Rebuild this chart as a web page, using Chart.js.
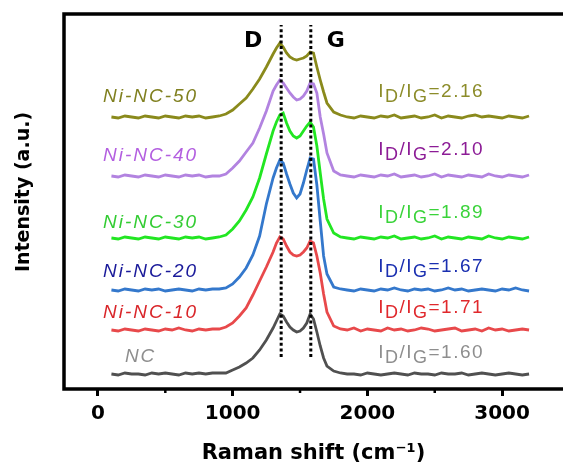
<!DOCTYPE html>
<html lang="en">
<head>
<meta charset="UTF-8" />
<title>Raman spectra</title>
<script src="https://cdn.jsdelivr.net/npm/chart.js@4.4.1/dist/chart.umd.min.js"></script>
<style>
  html, body { margin: 0; padding: 0; background: #fff; overflow: hidden; }
  canvas { display: block; }
</style>
</head>
<body>
<canvas id="raman" width="563" height="470"></canvas>
<script>
// Raman shift (cm-1), shared by every spectrum
const shift = [100,150,200,250,300,350,400,450,500,550,600,650,700,750,800,850,
  900,950,1000,1050,1100,1150,1200,1250,
  1300,1325,1350,1375,1400,1425,1450,1475,1500,1525,1550,1575,1600,1625,1650,1675,1700,
  1750,1800,1850,1900,1950,2000,2050,2100,2150,2200,2250,2300,2350,2400,2450,2500,
  2550,2600,2650,2700,2750,2800,2850,2900,2950,3000,3050,3100,3150,3200];

const samples = ['NC', 'Ni-NC-10', 'Ni-NC-20', 'Ni-NC-30', 'Ni-NC-40', 'Ni-NC-50'];
const ratios = ['1.60', '1.71', '1.67', '1.89', '2.10', '2.16'];

// stacked intensities (a.u., offset per sample)
const ncCounts = [15,14,16,15,15,14,16,15,16,15,14,16,15,16,15,16,
  16,16,19,22,26,31,39,49,
  61,68,75,73,67,62,59,57,58,61,66,75,70,57,43,31,23,
  18,16,15,15,14,16,15,14,15,16,15,14,16,15,15,14,16,15,15,16,14,15,16,15,14,15,16,15,14,15];
const ni10Counts = [59,58,60,59,58,60,59,58,60,59,61,59,58,60,59,60,
  60,62,66,73,81,94,108,122,
  137,146,152,150,143,137,134,133,134,137,141,148,146,133,116,95,77,
  63,60,59,61,58,60,59,58,61,59,60,58,59,61,60,58,59,60,61,58,59,60,58,61,59,60,58,59,60,59];
const ni20Counts = [99,98,100,99,98,100,99,100,98,99,100,99,98,100,99,100,
  100,101,105,112,121,134,153,185,
  211,221,229,226,215,205,196,191,195,206,219,231,230,204,168,133,115,
  102,100,99,98,100,99,98,100,99,101,99,98,100,99,100,98,99,101,99,100,98,99,100,99,98,100,99,101,99,98];
const ni30Counts = [151,150,152,151,150,152,151,150,152,151,150,152,151,152,150,151,
  152,154,160,168,179,192,211,235,
  258,267,274,276,266,258,253,251,253,258,263,267,262,243,216,190,170,
  156,152,151,150,152,151,150,152,151,153,150,151,152,150,151,153,150,152,151,150,152,151,150,153,151,150,152,151,150,152];
const ni40Counts = [213,212,214,213,212,214,213,212,214,213,212,214,213,214,212,213,
  213,215,221,228,237,246,261,278,
  298,304,309,306,301,296,292,289,290,293,298,306,305,296,272,255,236,
  218,214,213,212,214,213,212,214,213,215,212,213,214,212,213,215,212,214,213,212,214,213,212,215,213,212,214,213,212,214];
const ni50Counts = [272,271,273,272,271,273,272,271,273,272,271,273,272,273,271,272,
  273,275,279,285,291,300,310,322,
  335,341,346,342,336,332,330,329,330,331,333,337,336,322,309,297,286,
  277,274,272,271,273,272,271,273,272,274,271,272,273,271,272,274,271,273,272,271,273,274,272,273,272,271,273,272,271,273];

const bandNames = ['D', 'G'];
const bandPositions = [1360, 1580];
const bandSpan = [32, 364];

const xTicks = [0, 1000, 2000, 3000];
const xMinorTicks = [500, 1500, 2500];

// where the sample names and I_D/I_G notes sit (axis units)
const nameX = [200, 37, 37, 37, 37, 37];
const nameY = [27.5, 71.5, 112, 161.5, 228.5, 287];
const ratioX = 2080;
const ratioY = [31, 76, 117, 171, 234, 292];

const lineColors = ['#505050', '#e8494b', '#3478cc', '#22e622', '#b283e0', '#8a8a1c'];
const nameColors = ['#8e8e8e', '#d9262a', '#1a1a9a', '#33cc33', '#b35fe0', '#808020'];
const ratioColors = ['#8e8e8e', '#e0282c', '#1a2fb0', '#3ad33a', '#8c1c96', '#8c8c2a'];

const counts = [ncCounts, ni10Counts, ni20Counts, ni30Counts, ni40Counts, ni50Counts];

const datasets = counts.map((vals, i) => ({
  label: samples[i],
  data: vals.map((v, k) => ({ x: shift[k], y: v })),
  borderColor: lineColors[i],
  borderWidth: 2.8,
  pointRadius: 0,
  tension: 0,
  fill: false
}));

// dotted markers for the D and G bands
bandPositions.forEach((p, i) => {
  datasets.push({
    label: bandNames[i] + ' band',
    data: [{ x: p, y: bandSpan[0] }, { x: p, y: bandSpan[1] }],
    borderColor: '#000',
    borderWidth: 3,
    borderDash: [3, 2.6],
    pointRadius: 0,
    order: -1
  });
});

function spaced(ctx, text, x, y, gap) {
  for (const ch of text) {
    ctx.fillText(ch, x, y);
    x += ctx.measureText(ch).width + gap;
  }
  return x;
}

const annotate = {
  id: 'annotate',
  afterDraw(chart) {
    const { ctx, chartArea: a, scales: { x, y } } = chart;
    ctx.save();

    // frame: top, left and bottom (the right side is cut off by the canvas edge)
    ctx.strokeStyle = '#000';
    ctx.lineWidth = 3.5;
    ctx.beginPath();
    ctx.moveTo(a.right + 2, a.top);
    ctx.lineTo(a.left, a.top);
    ctx.lineTo(a.left, a.bottom);
    ctx.lineTo(a.right + 2, a.bottom);
    ctx.stroke();

    // minor ticks
    ctx.lineWidth = 2.5;
    xMinorTicks.forEach(v => {
      const px = x.getPixelForValue(v);
      ctx.beginPath();
      ctx.moveTo(px, a.bottom);
      ctx.lineTo(px, a.bottom + 4);
      ctx.stroke();
    });

    // band letters
    ctx.fillStyle = '#000';
    ctx.font = 'bold 22px "DejaVu Sans"';
    ctx.textAlign = 'center';
    ctx.textBaseline = 'alphabetic';
    ctx.fillText(bandNames[0], x.getPixelForValue(bandPositions[0]) - 28, a.top + 33);
    ctx.fillText(bandNames[1], x.getPixelForValue(bandPositions[1]) + 25, a.top + 33);

    // sample names and intensity ratios
    ctx.textAlign = 'left';
    samples.forEach((s, i) => {
      ctx.fillStyle = nameColors[i];
      ctx.font = 'italic 19px "Liberation Sans"';
      spaced(ctx, s, x.getPixelForValue(nameX[i]), y.getPixelForValue(nameY[i]), 2);

      ctx.fillStyle = ratioColors[i];
      const base = y.getPixelForValue(ratioY[i]);
      let px = x.getPixelForValue(ratioX);
      const parts = [['I', 0], ['D', 1], ['/', 0], ['I', 0], ['G', 1], ['=' + ratios[i], 0]];
      parts.forEach(([t, sub]) => {
        ctx.font = sub ? '18px "Liberation Sans"' : '19px "Liberation Sans"';
        px = spaced(ctx, t, px, base + (sub ? 5 : 0), 1.5);
      });
    });

    // y axis title
    ctx.fillStyle = '#000';
    ctx.font = 'bold 19px "DejaVu Sans"';
    ctx.textAlign = 'center';
    ctx.textBaseline = 'middle';
    ctx.translate(24, 192);
    ctx.rotate(-Math.PI / 2);
    ctx.fillText('Intensity (a.u.)', 0, 0);
    ctx.restore();
  }
};

new Chart(document.getElementById('raman'), {
  type: 'line',
  data: { datasets },
  options: {
    responsive: false,
    animation: false,
    layout: { padding: { left: 64, top: 14, right: 0, bottom: 0 } },
    plugins: { legend: { display: false }, tooltip: { enabled: false } },
    scales: {
      x: {
        type: 'linear',
        min: -252,
        max: 3452,
        afterBuildTicks: s => { s.ticks = xTicks.map(v => ({ value: v })); },
        afterFit: s => { s.height = 81; },
        grid: { drawOnChartArea: false, drawTicks: true, tickLength: 7, tickWidth: 3, tickColor: '#000' },
        border: { display: false },
        ticks: {
          color: '#000',
          padding: 6,
          font: { family: 'DejaVu Sans', weight: 'bold', size: 20 },
          callback: v => String(v)
        },
        title: {
          display: true,
          text: 'Raman shift (cm\u207B\u00B9)',
          color: '#000',
          padding: { top: 0, bottom: 4 },
          font: { family: 'DejaVu Sans', weight: 'bold', size: 21 }
        }
      },
      y: {
        type: 'linear',
        min: 0,
        max: 375,
        display: false
      }
    }
  },
  plugins: [annotate]
});
</script>
</body>
</html>
